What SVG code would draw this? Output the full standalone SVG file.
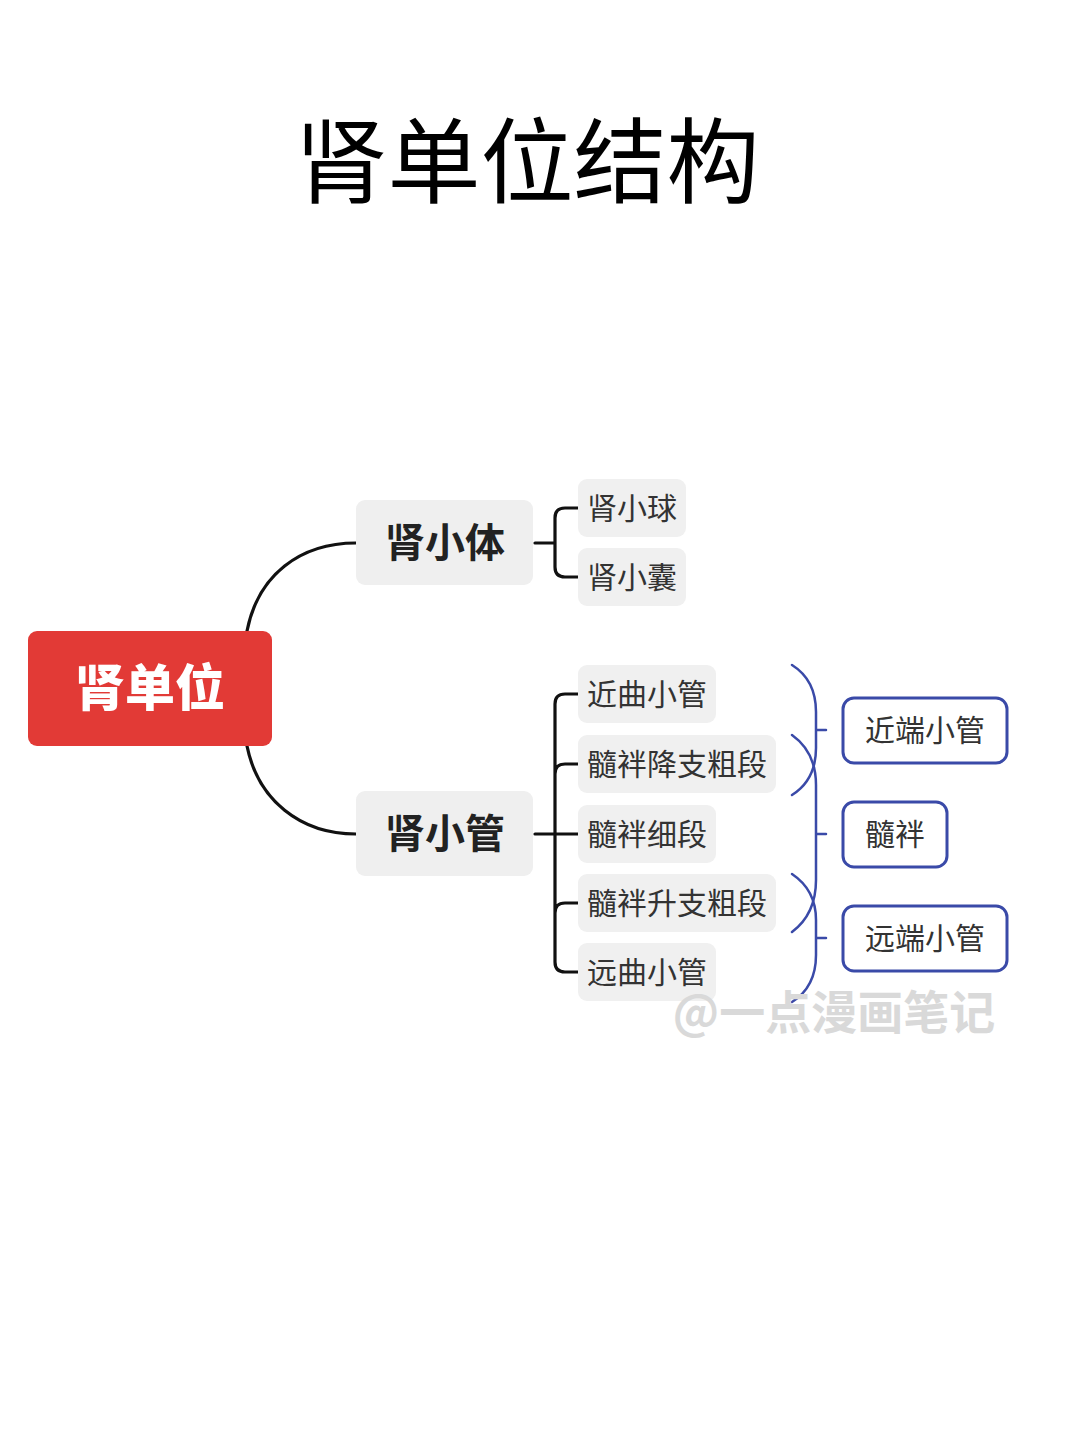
<svg xmlns="http://www.w3.org/2000/svg" width="1080" height="1440" viewBox="0 0 1080 1440">
<style>
text{font-family:"Noto Sans CJK SC","Noto Sans",sans-serif;text-anchor:middle}
.t2{font-size:40px;font-weight:700;fill:#222}
.t3{font-size:30px;fill:#333}
.box2{fill:#efefef}
.box3{fill:#f0f0f0}
.res{fill:#fff;stroke:#3a4aa8;stroke-width:3}
.lk{fill:none;stroke:#111;stroke-width:3.2;stroke-linecap:round}
.bl{fill:none;stroke:#3a4aa8;stroke-width:2.5;stroke-linecap:round}
</style>
<rect width="1080" height="1440" fill="#fff"/>
<text x="527" y="196" font-size="93" font-weight="400" fill="#000">肾单位结构</text>

<g id="connectors">
<path class="lk" d="M247,631 C258,575 300,543 356,543"/>
<path class="lk" d="M247,746 C258,800 300,834 356,834"/>
<path class="lk" d="M535,543 H555 M578,508 H565 Q555,508 555,518 V567 Q555,577 565,577 H578"/>
<path class="lk" d="M535,834 H578 M578,694 H565 Q555,694 555,704 V962 Q555,972 565,972 H578 M578,764 H565 Q555,764 555,774 M578,903 H565 Q555,903 555,913"/>
<path class="bl" d="M792,665 Q816,680 816,712 V748 Q816,780 792,795 M816,730 H826"/>
<path class="bl" d="M792,735 Q816,752 816,785 V880 Q816,914 792,932 M816,834 H826"/>
<path class="bl" d="M792,874 Q816,890 816,920 V955 Q816,987 792,1002 M816,938 H826"/>
</g>

<g id="root">
<rect x="28" y="631" width="244" height="115" rx="9" fill="#e23a36"/>
<text x="150" y="706" font-size="50" font-weight="900" fill="#fff">肾单位</text>
</g>

<g id="n-xiaoti">
<rect class="box2" x="356" y="500" width="177" height="85" rx="9"/>
<text class="t2" x="445" y="557">肾小体</text>
</g>
<g id="n-xiaoguan">
<rect class="box2" x="356" y="791" width="177" height="85" rx="9"/>
<text class="t2" x="445" y="848">肾小管</text>
</g>

<g id="n-xiaoqiu">
<rect class="box3" x="578" y="479" width="108" height="58" rx="9"/>
<text class="t3" x="632" y="519">肾小球</text>
</g>
<g id="n-xiaonang">
<rect class="box3" x="578" y="548" width="108" height="58" rx="9"/>
<text class="t3" x="632" y="588">肾小囊</text>
</g>

<g id="n-jinqu">
<rect class="box3" x="578" y="665" width="138" height="58" rx="9"/>
<text class="t3" x="647" y="705">近曲小管</text>
</g>
<g id="n-jiangzhi">
<rect class="box3" x="578" y="735" width="198" height="58" rx="9"/>
<text class="t3" x="677" y="775">髓袢降支粗段</text>
</g>
<g id="n-xiduan">
<rect class="box3" x="578" y="805" width="138" height="58" rx="9"/>
<text class="t3" x="647" y="845">髓袢细段</text>
</g>
<g id="n-shengzhi">
<rect class="box3" x="578" y="874" width="198" height="58" rx="9"/>
<text class="t3" x="677" y="914">髓袢升支粗段</text>
</g>
<g id="n-yuanqu">
<rect class="box3" x="578" y="943" width="138" height="58" rx="9"/>
<text class="t3" x="647" y="983">远曲小管</text>
</g>

<g id="r-jinduan">
<rect class="res" x="843" y="698" width="164" height="65" rx="11"/>
<text class="t3" x="925" y="741">近端小管</text>
</g>
<g id="r-suipan">
<rect class="res" x="843" y="802" width="104" height="65" rx="11"/>
<text class="t3" x="895" y="845">髓袢</text>
</g>
<g id="r-yuanduan">
<rect class="res" x="843" y="906" width="164" height="65" rx="11"/>
<text class="t3" x="925" y="949">远端小管</text>
</g>

<text x="834" y="1029" font-size="46" font-weight="700" fill="#d9d9d9">@一点漫画笔记</text>
</svg>
